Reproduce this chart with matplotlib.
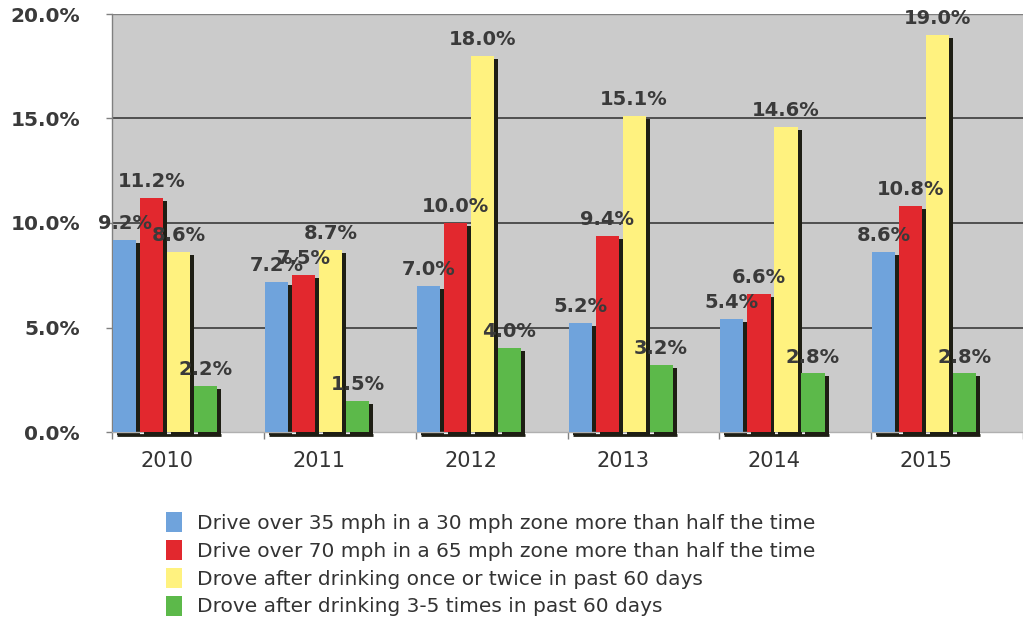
import matplotlib
matplotlib.use("Agg")
import matplotlib.pyplot as plt
import matplotlib.transforms as mtransforms
from matplotlib.patches import Patch
import numpy as np

years = ["2010", "2011", "2012", "2013", "2014", "2015"]
series_names = [
    "Drive over 35 mph in a 30 mph zone more than half the time",
    "Drive over 70 mph in a 65 mph zone more than half the time",
    "Drove after drinking once or twice in past 60 days",
    "Drove after drinking 3-5 times in past 60 days",
]
speed35 = [9.2, 7.2, 7.0, 5.2, 5.4, 8.6]
speed70 = [11.2, 7.5, 10.0, 9.4, 6.6, 10.8]
drink12 = [8.6, 8.7, 18.0, 15.1, 14.6, 19.0]
drink35 = [2.2, 1.5, 4.0, 3.2, 2.8, 2.8]
series = [speed35, speed70, drink12, drink35]
colors = ["#6FA3DC", "#E2282E", "#FFF27F", "#5CB94A"]
yticks = [0, 5, 10, 15, 20]

fig = plt.figure(figsize=(10.23, 6.18), dpi=100)
ax = fig.add_axes([112 / 1023, 1 - 432 / 618, 1 - 112 / 1023, (432 - 14) / 618])
ax.set_facecolor("#CBCBCB")

ax.set_xlim(0, 6)
ax.set_ylim(0, 20)

# gridlines
for yv in yticks[1:-1]:
    ax.axhline(yv, color="#454545", lw=1.3, zorder=1)
ax.axhline(20, color="#808080", lw=1.0, zorder=1)

pitch = 0.178
width = 0.152
start = 0.007
shadow_color = "#1E1E14"
shadow_tr = ax.transData + mtransforms.ScaledTranslation(4 / 100, -3 / 100, fig.dpi_scale_trans)

x = np.arange(len(years))
# bottom shadow strip under each group
for xi in x:
    ax.plot([xi + start, xi + start + 3 * pitch + width], [0, 0], color=shadow_color,
            lw=2.0, solid_capstyle="butt", transform=shadow_tr, clip_on=False, zorder=2)

for k, (vals, col) in enumerate(zip(series, colors)):
    pos = x + start + k * pitch
    ax.bar(pos, vals, width=width, align="edge", color=shadow_color, transform=shadow_tr,
           zorder=2 + k * 2, clip_on=False)
    ax.bar(pos, vals, width=width, align="edge", color=col, zorder=3 + k * 2)
    for px, v in zip(pos + width / 2, vals):
        ax.annotate(f"{v:.1f}%", (px, v), xytext=(0, 5), textcoords="offset points",
                    ha="center", va="bottom", fontsize=14, fontweight="bold",
                    color="#3A3A3A", zorder=20)

ax.set_yticks(yticks)
ax.set_yticklabels([f"{v:.1f}%" for v in yticks], fontsize=14.5, fontweight="bold", color="#3A3A3A")
ax.tick_params(axis="y", length=4, width=1, color="#808080", pad=19)

centers = x + start + 2 * pitch
ax.set_xticks(centers)
ax.set_xticklabels(years, fontsize=15, color="#333333")
ax.tick_params(axis="x", which="major", length=0, pad=14)
ax.set_xticks(np.arange(0, 7), minor=True)
ax.tick_params(axis="x", which="minor", length=5, width=1, color="#808080")

for s in ["top", "right"]:
    ax.spines[s].set_visible(False)
ax.spines["left"].set_color("#808080")
ax.spines["left"].set_linewidth(1.0)
ax.spines["bottom"].set_color("#B0B0B0")
ax.spines["bottom"].set_linewidth(1.0)

handles = [Patch(facecolor=c, edgecolor="none") for c in colors]
fig.legend(handles, series_names, loc="upper left",
           bbox_to_anchor=(158 / 1023, 1 - 504 / 618), frameon=False,
           fontsize=14.5, handlelength=0.8, handleheight=1.15,
           labelspacing=0.35, handletextpad=0.75, borderaxespad=0,
           labelcolor="#333333")

fig.savefig("out.png", dpi=100)
